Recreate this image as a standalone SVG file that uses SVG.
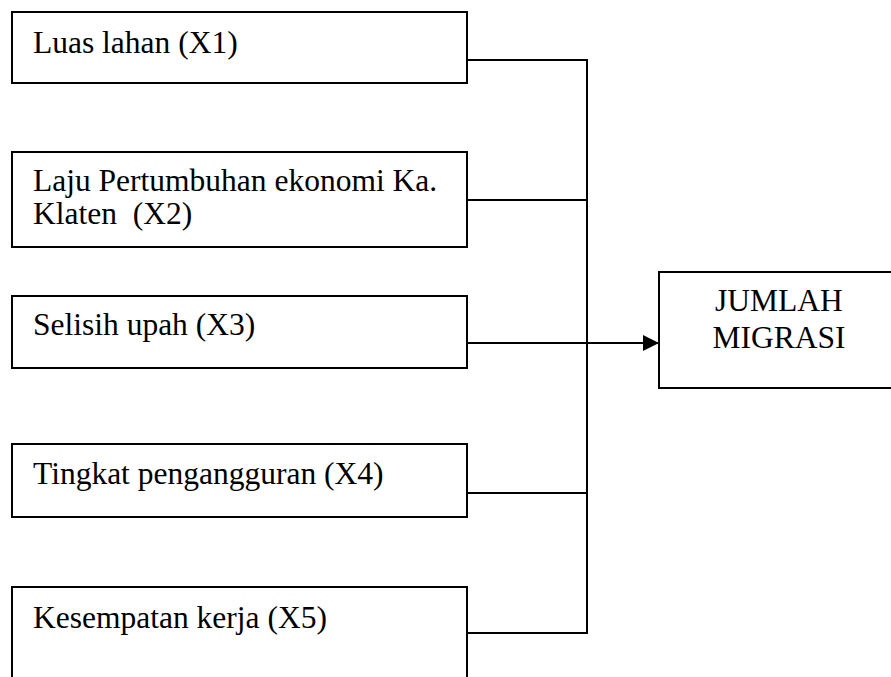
<svg xmlns="http://www.w3.org/2000/svg" width="891" height="677" viewBox="0 0 891 677">
<defs>
<style>
.box{fill:#fff;stroke:#000;stroke-width:2}
.t{font-family:"Liberation Serif","Times New Roman",serif;font-size:31.5px;fill:#000;white-space:pre}
.c{fill:none;stroke:#000;stroke-width:2}
</style>
<marker id="arr" viewBox="0 0 16 16" refX="16" refY="8" markerWidth="16" markerHeight="16" markerUnits="userSpaceOnUse" orient="auto">
<path d="M0,0 L16,8 L0,16 Z" fill="#000"/>
</marker>
</defs>
<rect width="891" height="677" fill="#fff"/>
<g id="x1"><rect class="box" x="12" y="12" width="455" height="71"/><text class="t" x="33" y="53">Luas lahan (X1)</text></g>
<g id="x2"><rect class="box" x="12" y="152" width="455" height="95"/><text class="t" x="33" y="191">Laju Pertumbuhan ekonomi Ka.</text><text class="t" x="33" y="224" xml:space="preserve">Klaten  (X2)</text></g>
<g id="x3"><rect class="box" x="12" y="296" width="455" height="72"/><text class="t" x="33" y="335">Selisih upah (X3)</text></g>
<g id="x4"><rect class="box" x="12" y="444" width="455" height="73"/><text class="t" x="33" y="484">Tingkat pengangguran (X4)</text></g>
<g id="x5"><rect class="box" x="12" y="587" width="455" height="100"/><text class="t" x="33" y="628">Kesempatan kerja (X5)</text></g>
<g id="y"><rect class="box" x="659" y="272" width="240" height="116"/><text class="t" x="779" y="311" text-anchor="middle">JUMLAH</text><text class="t" x="779" y="348" text-anchor="middle">MIGRASI</text></g>
<g id="connectors">
<polyline class="c" points="467,60 587,60 587,633 467,633"/>
<line class="c" x1="467" y1="200" x2="587" y2="200"/>
<line class="c" x1="467" y1="493" x2="587" y2="493"/>
<line class="c" x1="467" y1="343" x2="659" y2="343" marker-end="url(#arr)"/>
</g>
</svg>
